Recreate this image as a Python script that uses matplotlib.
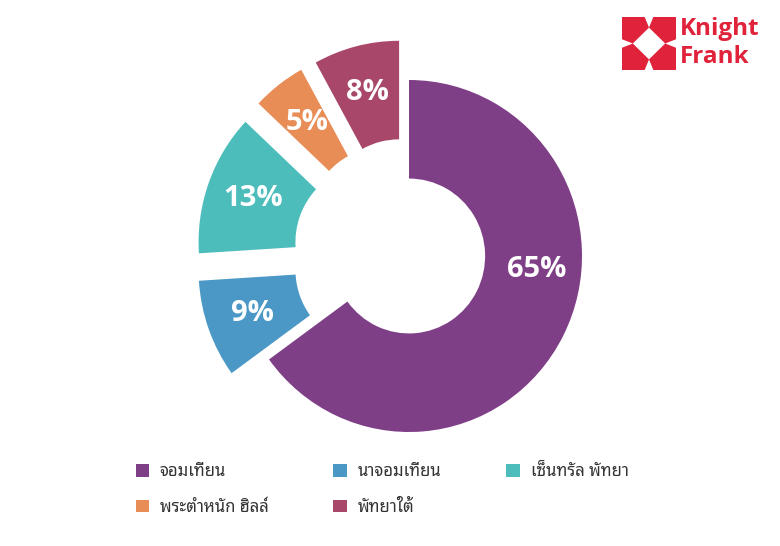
import matplotlib
matplotlib.use("Agg")
import matplotlib.pyplot as plt
from matplotlib.patches import Polygon, Rectangle

# ---- data ----
categories = ["จอมเทียน", "นาจอมเทียน", "เซ็นทรัล พัทยา", "พระตำหนัก ฮิลล์", "พัทยาใต้"]
shares = [65, 9, 13, 5, 8]
pct_labels = ["65%", "9%", "13%", "5%", "8%"]
colors = ["#7f3f87", "#4b98c6", "#4dbdbb", "#e98d57", "#a8476a"]

thai_font = ["Noto Sans Thai Looped", "DejaVu Sans"]

W, H = 780, 546
fig = plt.figure(figsize=(W / 100, H / 100), dpi=100)
fig.patch.set_facecolor("white")

cx, cy, rx, ry, lim = 409, 256, 173, 176, 1.4
ax = fig.add_axes([(cx - lim * rx) / W, (H - cy - lim * ry) / H, 2 * lim * rx / W, 2 * lim * ry / H])

wedges, texts, autotexts = ax.pie(
    shares, colors=colors, startangle=90, counterclock=False,
    explode=[0, 0.23, 0.23, 0.23, 0.23],
    wedgeprops=dict(width=0.56, linewidth=0),
    autopct="%1.0f%%", pctdistance=0.73,
    textprops=dict(color="white", fontsize=21, fontweight="bold", family="Open Sans"),
)
ax.set_aspect("auto")
ax.set_xlim(-lim, lim)
ax.set_ylim(-lim, lim)
for t, lab in zip(autotexts, pct_labels):
    t.set_text(lab)
autotexts[0].set_position((0.74, -0.075))

order = [0, 3, 1, 4, 2]
fig.legend([wedges[i] for i in order], [categories[i] for i in order], ncol=3,
           loc="center", bbox_to_anchor=(382 / W, 1 - 490 / H), frameon=False,
           prop=dict(family=thai_font, size=12, weight="medium"),
           handlelength=0.8, handleheight=0.8, handletextpad=0.65, columnspacing=3.9,
           labelspacing=1.15, labelcolor="#333333")

lax = fig.add_axes([622 / W, 1 - 70 / H, 54 / W, 53 / H])
lax.set_xlim(0, 1); lax.set_ylim(0, 1); lax.axis("off")
red = "#e0223b"
lax.add_patch(Rectangle((0, 0), 1, 1, color=red, lw=0))
lax.add_patch(Polygon([(0.5, 0.8), (0.8, 0.5), (0.5, 0.2), (0.2, 0.5)], color="white", lw=0))
for tri in ([(0.42, 1), (0.58, 1), (0.5, 0.8)], [(0.42, 0), (0.58, 0), (0.5, 0.2)],
            [(0, 0.42), (0, 0.58), (0.2, 0.5)], [(1, 0.42), (1, 0.58), (0.8, 0.5)]):
    lax.add_patch(Polygon(tri, color="white", lw=0))
fig.text(680 / W, 1 - 29 / H, "Knight", color=red, fontsize=17.5, fontweight="bold",
         family="Open Sans", va="center", ha="left")
fig.text(680 / W, 1 - 57 / H, "Frank", color=red, fontsize=17.5, fontweight="bold",
         family="Open Sans", va="center", ha="left")

fig.savefig("out.png", dpi=100, facecolor="white")
